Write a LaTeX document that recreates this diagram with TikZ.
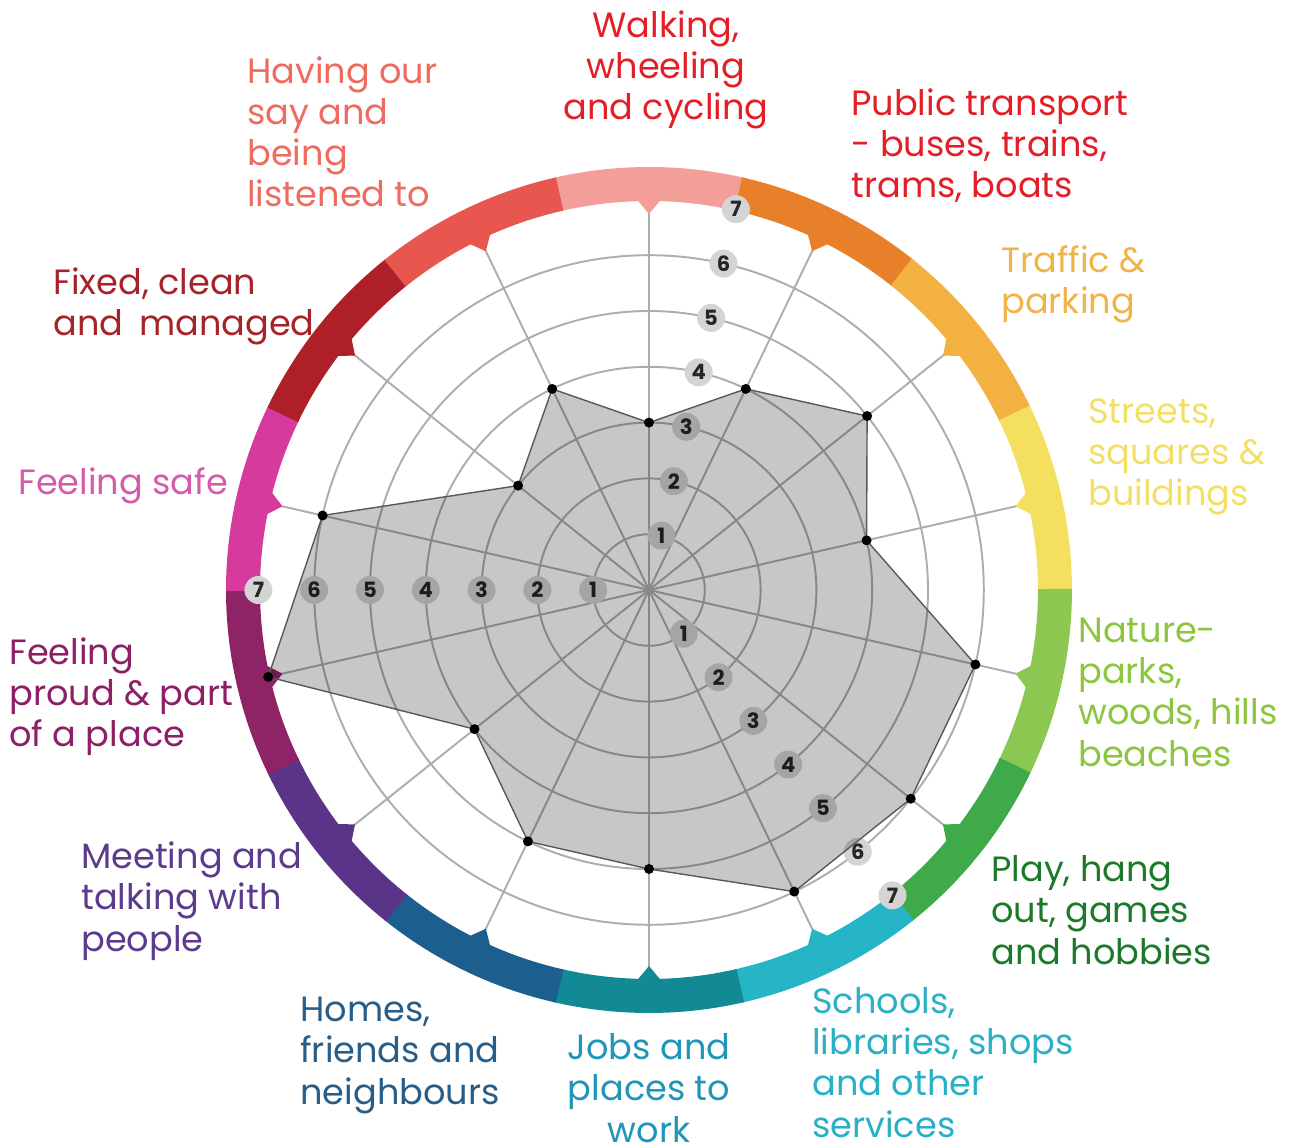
\documentclass[tikz,border=0pt]{standalone}
\usepackage{fontspec}
\setmainfont{Poppins}
\definecolor{ringWalk}{HTML}{F49E9A}
\definecolor{ringBus}{HTML}{E8802A}
\definecolor{ringTraffic}{HTML}{F2B140}
\definecolor{ringStreet}{HTML}{F5DF5E}
\definecolor{ringNature}{HTML}{8CC751}
\definecolor{ringPlay}{HTML}{3FAA4A}
\definecolor{ringSchool}{HTML}{25B5C6}
\definecolor{ringJobs}{HTML}{128A96}
\definecolor{ringHome}{HTML}{1C5F8E}
\definecolor{ringMeet}{HTML}{5A3489}
\definecolor{ringProud}{HTML}{8E2466}
\definecolor{ringSafe}{HTML}{D63A9C}
\definecolor{ringFixed}{HTML}{AE1F27}
\definecolor{ringSay}{HTML}{E8574F}
\definecolor{txtWalk}{HTML}{E41E26}
\definecolor{txtTraffic}{HTML}{F0B347}
\definecolor{txtStreet}{HTML}{F2E066}
\definecolor{txtNature}{HTML}{8CC63F}
\definecolor{txtPlay}{HTML}{1B7A2A}
\definecolor{txtSchool}{HTML}{2AB0C5}
\definecolor{txtJobs}{HTML}{1F95B8}
\definecolor{txtHome}{HTML}{275D87}
\definecolor{txtMeet}{HTML}{5C3A8E}
\definecolor{txtProud}{HTML}{8C1F66}
\definecolor{txtSafe}{HTML}{D55BAA}
\definecolor{txtFixed}{HTML}{A6232A}
\definecolor{txtSay}{HTML}{EE6B5F}

\begin{document}
\begin{tikzpicture}[x=0.02cm, y=0.02cm,
    grid/.style={draw=black!32, line width=1.1pt},
    numlab/.style={circle, fill=black!17, inner sep=0pt, minimum size=0.56cm, font=\fontsize{12}{14}\selectfont\bfseries, text=black!85},
    catlab/.style={inner sep=0pt, font=\fontsize{20}{23.4}\selectfont, align=left, anchor=base west}]
    \def\u{55.8}
    \def\rin{389}
    \def\rout{423}
    \foreach \k in {1,...,7}
        \draw[grid] (0,0) circle ({\k*\u});
    \foreach \i in {0,...,13}
        \draw[grid] (0,0) -- ({90-\i*360/14}:\rin);
    \foreach \c [count=\i from 0] in {ringWalk,ringBus,ringTraffic,ringStreet,ringNature,ringPlay,ringSchool,ringJobs,ringHome,ringMeet,ringProud,ringSafe,ringFixed,ringSay}{
        \pgfmathsetmacro\a{90-\i*360/14}
        \fill[\c] ({\a-13}:\rin) arc[start angle=\a-13, end angle=\a+13, radius=\rin] -- ({\a+13}:\rout) arc[start angle=\a+13, end angle=\a-13, radius=\rout] -- cycle;
        \fill[\c] ({\a-1.7}:{\rin+1}) -- (\a:{\rin-13}) -- ({\a+1.7}:{\rin+1}) -- cycle;
    }
    \foreach \k in {1,...,7}{
        \node[numlab] (t\k) at (77.14:{\k*\u}) {\k};
        \node[numlab] (l\k) at (180:{\k*\u}) {\k};
        \node[numlab] (r\k) at (-51.43:{\k*\u}) {\k};
    }
    \foreach \v [count=\i from 0] in {3,4,5,4,6,6,6,5,5,4,7,6,3,4}
        \coordinate (p\i) at ({90-\i*360/14}:{\v*\u});
    \draw[draw=black!65, line width=0.8pt, fill=black, fill opacity=0.22] (p0) \foreach \i in {1,...,13}{-- (p\i)} -- cycle;
    \foreach \i in {0,...,13}
        \fill (p\i) circle (5);
    \begin{scope}[shift={(-649,590)}, yscale=-1]
        \useasboundingbox (0,0) rectangle (1289,1146);
        \node[catlab, text=txtWalk, align=center, anchor=base] (walk) at (666,120) {Walking,\\wheeling\\and cycling};
        \node[catlab, text=txtWalk] (bus) at (851,198) {Public transport\\- buses, trains,\\trams, boats};
        \node[catlab, text=txtTraffic] (traffic) at (1001,314) {Traffic \&\\parking};
        \node[catlab, text=txtStreet] (street) at (1088,506) {Streets,\\squares \&\\buildings};
        \node[catlab, text=txtNature] (nature) at (1078,766) {Nature-\\parks,\\woods, hills\\beaches};
        \node[catlab, text=txtPlay] (play) at (991,964) {Play, hang\\out, games\\and hobbies};
        \node[catlab, text=txtSchool] (school) at (812,1137) {Schools,\\libraries, shops\\and other\\services};
        \node[catlab, text=txtJobs, align=center, anchor=base] (jobs) at (649,1142) {Jobs and\\places to\\work};
        \node[catlab, text=txtHome] (home) at (300,1104) {Homes,\\friends and\\neighbours};
        \node[catlab, text=txtMeet] (meet) at (81,951) {Meeting and\\talking with\\people};
        \node[catlab, text=txtProud] (proud) at (9,747) {Feeling\\proud \& part\\of a place};
        \node[catlab, text=txtSafe] (safe) at (18,495) {Feeling safe};
        \node[catlab, text=txtFixed] (fixed) at (53,336) {Fixed, clean\\and\hspace{0.45em}managed};
        \node[catlab, text=txtSay] (say) at (247,207) {Having our\\say and\\being\\listened to};
    \end{scope}
\end{tikzpicture}
\end{document}
